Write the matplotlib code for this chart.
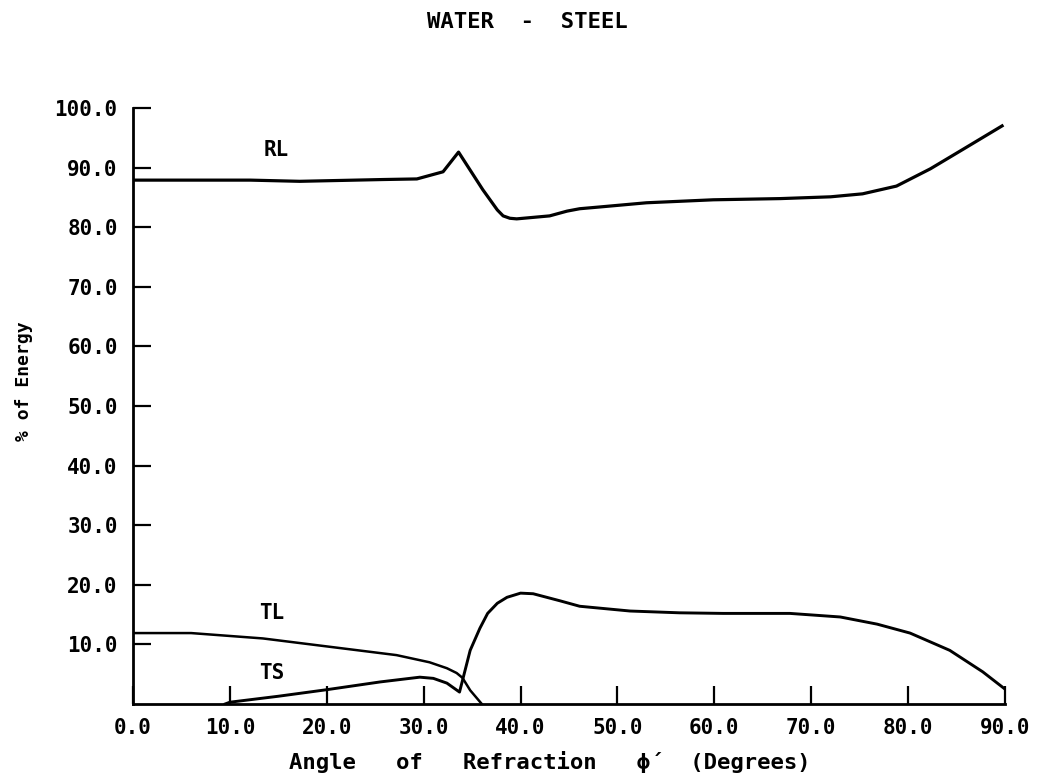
#!/usr/bin/env python3
"""Water - steel energy partition vs angle of refraction (RL, TL, TS)."""

import matplotlib
matplotlib.use("Agg")

import matplotlib.pyplot as plt

# Reflected longitudinal
RL_X = [0, 12.1, 17.2, 25.8, 29.3, 32.0, 33.6, 36.1, 37.6, 38.2, 38.9, 39.6, 43.0, 44.8,
        46.1, 48.2, 53.0, 59.9, 66.8, 72.0, 75.3, 78.8, 82.3, 85.7, 89.7]
RL_Y = [87.9, 87.9, 87.7, 88.0, 88.1, 89.3, 92.6, 86.3, 82.9, 81.9, 81.5, 81.4, 81.9, 82.7,
        83.1, 83.4, 84.1, 84.6, 84.8, 85.1, 85.6, 86.9, 89.8, 93.1, 97.0]

# Transmitted longitudinal
TL_X = [0, 6.0, 13.4, 20.3, 27.2, 30.6, 32.4, 33.4, 34.0, 34.8, 36.0]
TL_Y = [11.9, 11.9, 11.0, 9.6, 8.2, 7.0, 6.0, 5.2, 4.4, 2.3, 0.0]

# Transmitted shear
TS_X = [9.5, 10.0, 15.0, 20.0, 25.5, 29.6, 31.0, 32.4, 33.7, 34.8, 35.8, 36.6, 37.6,
        38.6, 40.0, 41.3, 42.7, 44.1, 46.1, 51.3, 56.4, 60.9, 67.8, 73.0, 76.8, 80.2,
        84.3, 87.7, 90.0]
TS_Y = [0.0, 0.3, 1.3, 2.4, 3.7, 4.5, 4.3, 3.5, 2.0, 9.0, 12.7, 15.2, 16.9,
        17.9, 18.6, 18.5, 17.9, 17.3, 16.4, 15.6, 15.3, 15.2, 15.2, 14.6, 13.4, 11.9,
        9.0, 5.4, 2.5]

X_TICKS = [0, 10, 20, 30, 40, 50, 60, 70, 80, 90]
X_LABELS = ["0.0", "10.0", "20.0", "30.0", "40.0", "50.0", "60.0", "70.0", "80.0", "90.0"]
Y_TICKS = [10, 20, 30, 40, 50, 60, 70, 80, 90, 100]
Y_LABELS = ["10.0", "20.0", "30.0", "40.0", "50.0", "60.0", "70.0", "80.0", "90.0", "100.0"]

FONT = "DejaVu Sans Mono"

fig = plt.figure(figsize=(10.54, 7.81), dpi=100)
ax = fig.add_axes([0.1262, 0.0986, 0.8273, 0.7631])

ax.plot(RL_X, RL_Y, color="black", lw=2.3, solid_joinstyle="round")
ax.plot(TL_X, TL_Y, color="black", lw=1.8, solid_joinstyle="round")
ax.plot(TS_X, TS_Y, color="black", lw=2.1, solid_joinstyle="round")

ax.set_xlim(0, 90)
ax.set_ylim(0, 100)

for side in ("top", "right"):
    ax.spines[side].set_visible(False)
for side in ("left", "bottom"):
    ax.spines[side].set_linewidth(2.0)

ax.set_xticks(X_TICKS)
ax.set_xticklabels(X_LABELS, family=FONT, fontweight="bold", fontsize=15)
ax.set_yticks(Y_TICKS)
ax.set_yticklabels(Y_LABELS, family=FONT, fontweight="bold", fontsize=15)
ax.tick_params(axis="both", direction="in", length=13, width=1.6, color="black")
ax.tick_params(axis="x", pad=10)
ax.tick_params(axis="y", pad=11)

# curve labels
lab = dict(family=FONT, fontweight="bold", fontsize=15, ha="center", va="center")
ax.text(14.8, 93.0, "RL", **lab)
ax.text(14.3, 15.3, "TL", **lab)
ax.text(14.3, 5.2, "TS", **lab)

fig.text(0.5, 1 - 22 / 781, "WATER  -  STEEL", family=FONT, fontweight="bold",
         fontsize=16, ha="center", va="center")
fig.text(550 / 1054, 1 - 762 / 781, "Angle   of   Refraction   \u03d5\u00b4  (Degrees)",
         family=FONT, fontweight="bold", fontsize=16, ha="center", va="center")
fig.text(24 / 1054, 1 - 381 / 781, "% of Energy", family=FONT, fontweight="bold",
         fontsize=13, rotation=90, ha="center", va="center")

fig.savefig("out.png", dpi=100, facecolor="white")
